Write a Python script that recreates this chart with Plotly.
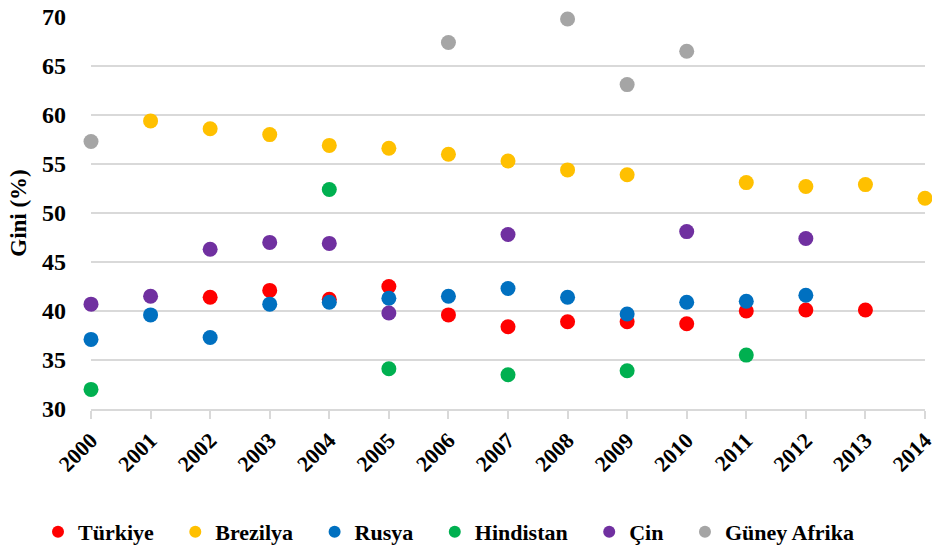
import plotly.graph_objects as go

# Gini (%) by country
years = list(range(2000, 2015))

turkiye = [None, None, 41.4, 42.1, 41.2, 42.5, 39.6, 38.4, 38.9, 38.9, 38.7, 40.0, 40.1, 40.1, None]
brezilya = [None, 59.4, 58.6, 58.0, 56.9, 56.6, 56.0, 55.3, 54.4, 53.9, None, 53.1, 52.7, 52.9, 51.5]
rusya = [37.1, 39.6, 37.3, 40.7, 40.9, 41.3, 41.5, 42.3, 41.4, 39.7, 40.9, 41.0, 41.6, None, None]
hindistan = [32.0, None, None, None, 52.4, 34.1, None, 33.5, None, 33.9, None, 35.5, None, None, None]
cin = [40.7, 41.5, 46.3, 47.0, 46.9, 39.8, None, 47.8, None, None, 48.1, None, 47.4, None, None]
guney_afrika = [57.3, None, None, None, None, None, 67.4, None, 69.8, 63.1, 66.5, None, None, None, None]

names = ["Türkiye", "Brezilya", "Rusya", "Hindistan", "Çin", "Güney Afrika"]
values = [turkiye, brezilya, rusya, hindistan, cin, guney_afrika]
colors = ["#FF0000", "#FFC000", "#0070C0", "#00B050", "#7030A0", "#A5A5A5"]
# trailing no-break spaces per legend entry, to mimic Excel's legend spacing
legend_pad = [3, 3, 3, 3, 3, 0]

FONT = "Times New Roman"

fig = go.Figure()
for name, vals, color, pad in zip(names, values, colors, legend_pad):
    fig.add_trace(go.Scatter(
        x=years, y=vals, name=name + "\u00a0" * pad, mode="markers",
        marker=dict(size=15, color=color),
        cliponaxis=False,
    ))

fig.update_layout(
    width=932, height=549,
    margin=dict(l=91, r=7, t=17, b=140, autoexpand=False),
    paper_bgcolor="white", plot_bgcolor="white",
    font=dict(family=FONT, color="black"),
    showlegend=True,
    legend=dict(
        orientation="h", x=38 / 932, xanchor="left", xref="container",
        y=1 - 532 / 549, yanchor="middle", yref="container",
        font=dict(family=FONT, size=22, color="black", weight="bold"),
        itemsizing="constant", itemwidth=30, tracegroupgap=0,
    ),
    xaxis=dict(
        range=[1999.9999, 2014.0001], tickmode="array", tickvals=years,
        ticktext=[str(y) for y in years], tickangle=-45,
        tickfont=dict(family=FONT, size=22, weight="bold"),
        ticklabeloverflow="allow",
        showgrid=False, zeroline=False, automargin=False,
        showline=True, linecolor="#D9D9D9", linewidth=1.5,
        ticks="outside", ticklen=8, tickcolor="#D9D9D9", tickwidth=1.5,
    ),
    yaxis=dict(
        range=[30, 70], dtick=5, automargin=False,
        tickfont=dict(family=FONT, size=24, weight="bold"),
        showgrid=True, gridcolor="#D9D9D9", gridwidth=1.5,
        zeroline=False, showline=False, ticks="", ticklabelstandoff=24,
        title=dict(text="Gini (%)", font=dict(family=FONT, size=23, weight="bold"), standoff=8),
    ),
)

# the page body has an 8px default margin; remove it so the figure sits at 0,0
fig.write_html("out.html", config={"displayModeBar": False},
               post_script="document.body.style.margin='0';")
